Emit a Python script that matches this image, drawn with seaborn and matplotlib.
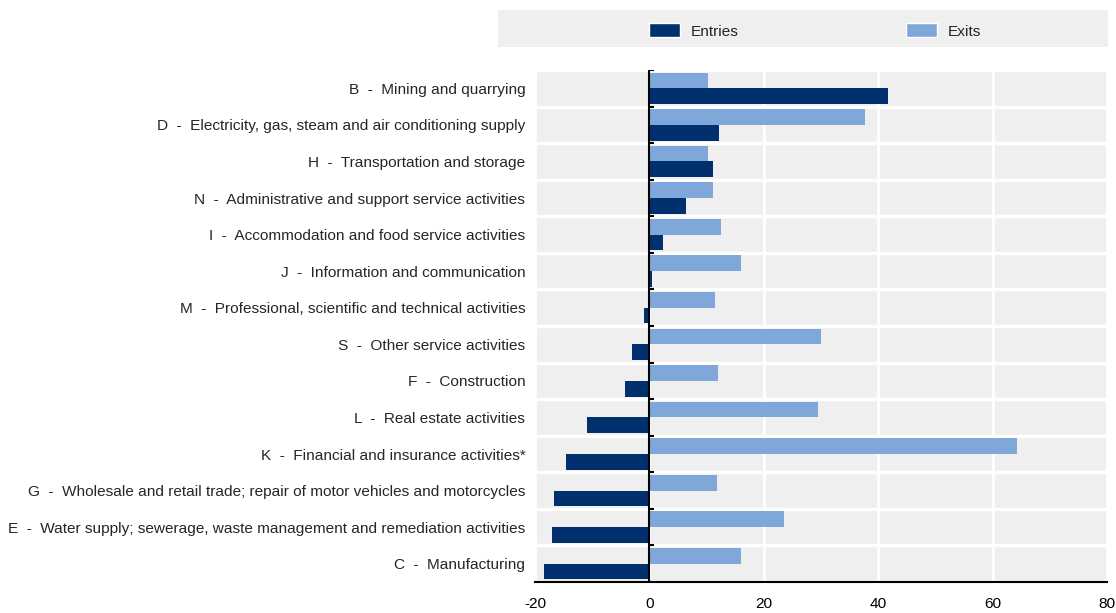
import matplotlib
matplotlib.use("Agg")
import matplotlib.pyplot as plt
import seaborn as sns
import pandas as pd
from matplotlib.patches import Patch, Rectangle

codes = ["B", "D", "H", "N", "I", "J", "M", "S", "F", "L", "K", "G", "E", "C"]
sectors = [
    "Mining and quarrying",
    "Electricity, gas, steam and air conditioning supply",
    "Transportation and storage",
    "Administrative and support service activities",
    "Accommodation and food service activities",
    "Information and communication",
    "Professional, scientific and technical activities",
    "Other service activities",
    "Construction",
    "Real estate activities",
    "Financial and insurance activities*",
    "Wholesale and retail trade; repair of motor vehicles and motorcycles",
    "Water supply; sewerage, waste management and remediation activities",
    "Manufacturing",
]
entries = [41.7, 12.1, 11.2, 6.4, 2.4, 0.5, -0.9, -3.1, -4.2, -10.9, -14.6, -16.7, -17.0, -18.4]
exits = [10.3, 37.7, 10.3, 11.1, 12.5, 16.0, 11.5, 30.0, 12.0, 29.4, 64.2, 11.8, 23.6, 16.1]
xticks = [-20, 0, 20, 40, 60, 80]

labels = [f"{c}  -  {s}" for c, s in zip(codes, sectors)]
df = pd.DataFrame({
    "label": labels * 2,
    "value": entries + exits,
    "series": ["Entries"] * len(labels) + ["Exits"] * len(labels),
})

sns.set_style("white")
plt.rcParams["font.family"] = ["Liberation Sans", "DejaVu Sans"]

DARK = "#00306E"
LIGHT = "#7FA7D9"
BG = "#EFEFEF"
FS = 11.1

fig = plt.figure(figsize=(11.16, 6.13), dpi=100)
ax = fig.add_axes([535 / 1116, 1 - 582 / 613, (1107 - 535) / 1116, (582 - 70) / 613])

sns.barplot(data=df, y="label", x="value", hue="series", hue_order=["Exits", "Entries"],
            palette={"Entries": DARK, "Exits": LIGHT}, orient="h", width=0.86,
            ax=ax, legend=False, saturation=1, linewidth=0)

ax.set_facecolor(BG)
ax.set_xlim(-20, 80)
ax.set_ylim(len(labels) - 0.5, -0.5)
ax.set_xticks(xticks)
ax.set_xticklabels([str(v) for v in xticks], fontsize=FS)
ax.set_yticks(range(len(labels)))
ax.set_yticklabels(labels, fontsize=FS)
ax.set_yticks([i + 0.5 for i in range(-1, len(labels))], minor=True)
ax.tick_params(axis="y", which="both", length=0, pad=7)
ax.tick_params(axis="x", which="major", direction="in", length=5, width=1.2, pad=11, colors="black")
ax.set_xlabel("")
ax.set_ylabel("")
ax.set_axisbelow(True)
ax.grid(axis="x", which="major", color="white", linewidth=2)
ax.grid(axis="y", which="minor", color="white", linewidth=2.5)
for s in ["top", "right", "left"]:
    ax.spines[s].set_visible(False)
ax.spines["bottom"].set_color("black")
ax.spines["bottom"].set_linewidth(1.5)
ax.axvline(0, color="black", linewidth=1.5, zorder=5)
ax.hlines([i + 0.5 for i in range(-1, len(labels) - 1)], 0, 0.8, color="black", linewidth=1.5, zorder=5)

fig.patches.append(Rectangle((498 / 1116, 1 - 47 / 613), (1108 - 498) / 1116, 37 / 613,
                             transform=fig.transFigure, facecolor=BG, edgecolor="none", zorder=0))
handles = [Patch(facecolor=DARK, label="Entries"), Patch(facecolor=LIGHT, label="Exits")]
fig.legend(handles=handles, loc="center", bbox_to_anchor=(815 / 1116, 1 - 31 / 613), ncol=2,
           frameon=False, fontsize=FS, handlelength=2.0, handleheight=1.0,
           handletextpad=0.7, columnspacing=10.9)

fig.savefig("out.png", dpi=100)
